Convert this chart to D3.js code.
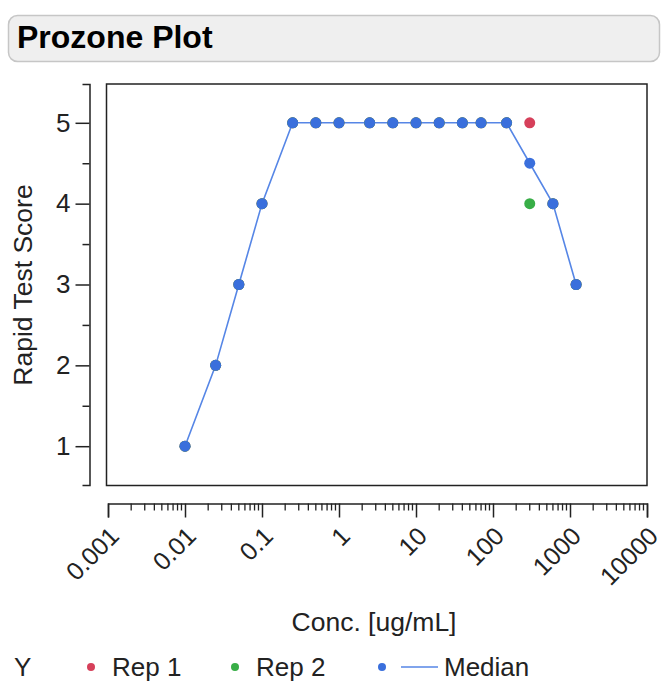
<!DOCTYPE html>
<html>
<head>
<meta charset="utf-8">
<script src="https://cdn.jsdelivr.net/npm/d3@7"></script>
<style>
  html, body { margin: 0; padding: 0; background: #fff; }
  svg { display: block; font-family: "Liberation Sans", Arial, sans-serif; }
</style>
</head>
<body>
<svg id="chart" width="662" height="684"></svg>
<script>
// ---- data ----
const concentrations = [0.01, 0.025, 0.05, 0.1, 0.25, 0.5, 1, 2.5, 5, 10, 20, 40, 70, 150, 300, 600, 1200];
const rep1   = [1, 2, 3, 4, 5, 5, 5, 5, 5, 5, 5, 5, 5, 5, 5, 4, 3];
const rep2   = [1, 2, 3, 4, 5, 5, 5, 5, 5, 5, 5, 5, 5, 5, 4, 4, 3];
const median = [1, 2, 3, 4, 5, 5, 5, 5, 5, 5, 5, 5, 5, 5, 4.5, 4, 3];
const xTickValues = [0.001, 0.01, 0.1, 1, 10, 100, 1000, 10000];
const xTickLabels = ["0.001", "0.01", "0.1", "1", "10", "100", "1000", "10000"];
const yTickValues = [1, 2, 3, 4, 5];
const yMinorTicks = [1.5, 2.5, 3.5, 4.5];
const legendItems = ["Rep 1", "Rep 2", "Median"];
const seriesColors = { "Rep 1": "#d6405a", "Rep 2": "#38ae47", "Median": "#3a6fdc" };
const lineColor = "#5686e6";

// ---- layout ----
const svg = d3.select("#chart");
const frame = { left: 106.5, right: 647, top: 84, bottom: 485.5 };
const x = d3.scaleLog().domain([0.001, 10000]).range([108, 647]);
const y = d3.scaleLinear().domain([0.52, 5.48]).range([485, 84]);
const FONT = 26;
const TICKFONT = 25;

// title box
svg.append("rect")
  .attr("x", 8.5).attr("y", 15.5).attr("width", 651).attr("height", 46)
  .attr("rx", 9).attr("ry", 9)
  .attr("fill", "#efefef").attr("stroke", "#c6c6c6").attr("stroke-width", 1.5);
svg.append("text")
  .attr("x", 17).attr("y", 48)
  .attr("font-size", 32).attr("font-weight", "bold").attr("fill", "#000")
  .text("Prozone Plot");

// plot frame
svg.append("rect")
  .attr("x", frame.left).attr("y", frame.top)
  .attr("width", frame.right - frame.left).attr("height", frame.bottom - frame.top)
  .attr("fill", "none").attr("stroke", "#222").attr("stroke-width", 1.5);

// y axis
const yAxis = svg.append("g").attr("transform", "translate(89.5,0)")
  .call(d3.axisLeft(y).tickValues(yTickValues).tickSize(14).tickSizeOuter(7).tickPadding(5).tickFormat(d3.format("d")));
yAxis.selectAll("path, line").attr("stroke", "#222").attr("stroke-width", 1.5);
yAxis.selectAll("text").attr("font-size", FONT).attr("fill", "#222").attr("font-family", "Liberation Sans, Arial, sans-serif");
yAxis.selectAll(".minor").data(yMinorTicks).enter().append("line")
  .attr("class", "minor")
  .attr("x1", -7).attr("x2", 0)
  .attr("y1", d => y(d) + 0.5).attr("y2", d => y(d) + 0.5)
  .attr("stroke", "#222").attr("stroke-width", 1.5);

// x axis
const xAxis = svg.append("g").attr("transform", "translate(0,503.5)")
  .call(d3.axisBottom(x).tickValues(xTickValues).tickSize(14).tickSizeOuter(14)
    .tickFormat((d, i) => xTickLabels[i]));
xAxis.selectAll("path, line").attr("stroke", "#222").attr("stroke-width", 1.5);
xAxis.selectAll("text")
  .attr("font-size", TICKFONT).attr("fill", "#222").attr("font-family", "Liberation Sans, Arial, sans-serif")
  .attr("text-anchor", "end")
  .attr("x", 0).attr("y", 0).attr("dy", "0.35em")
  .attr("transform", "translate(6,28) rotate(-45)");
const minorX = [];
for (let i = 0; i < xTickValues.length - 1; i++) {
  for (let m = 2; m <= 9; m++) minorX.push(xTickValues[i] * m);
}
xAxis.selectAll(".minor").data(minorX).enter().append("line")
  .attr("class", "minor")
  .attr("x1", d => x(d)).attr("x2", d => x(d))
  .attr("y1", 0).attr("y2", 7)
  .attr("stroke", "#222").attr("stroke-width", 1.3);

// axis titles
svg.append("text")
  .attr("x", 374).attr("y", 631).attr("text-anchor", "middle")
  .attr("font-size", 26.5).attr("fill", "#222")
  .text("Conc. [ug/mL]");
svg.append("text")
  .attr("transform", "translate(32,285) rotate(-90)").attr("text-anchor", "middle")
  .attr("font-size", 26.5).attr("fill", "#222")
  .text("Rapid Test Score");

// median line
const line = d3.line().x((d, i) => x(concentrations[i])).y(d => y(d));
svg.append("path").datum(median)
  .attr("d", line).attr("fill", "none")
  .attr("stroke", lineColor).attr("stroke-width", 1.6);

// points
const R = 5.5;
function drawPoints(vals, color) {
  svg.append("g").selectAll("circle").data(vals).enter().append("circle")
    .attr("cx", (d, i) => x(concentrations[i]))
    .attr("cy", d => y(d))
    .attr("r", R).attr("fill", color);
}
drawPoints(rep1, seriesColors["Rep 1"]);
drawPoints(rep2, seriesColors["Rep 2"]);
drawPoints(median, seriesColors["Median"]);

// legend
const ly = 667;
svg.append("text").attr("x", 14).attr("y", ly + 9).attr("font-size", FONT).attr("fill", "#222").text("Y");
const legendPos = { "Rep 1": { dot: 91, text: 112 }, "Rep 2": { dot: 235, text: 256 }, "Median": { dot: 382, text: 444 } };
legendItems.forEach(name => {
  const p = legendPos[name];
  svg.append("circle").attr("cx", p.dot).attr("cy", ly).attr("r", 4).attr("fill", seriesColors[name]);
  if (name === "Median") {
    svg.append("line").attr("x1", 401).attr("x2", 438).attr("y1", ly).attr("y2", ly)
      .attr("stroke", lineColor).attr("stroke-width", 1.6);
  }
  svg.append("text").attr("x", p.text).attr("y", ly + 9).attr("font-size", FONT).attr("fill", "#222").text(name);
});
</script>
</body>
</html>
